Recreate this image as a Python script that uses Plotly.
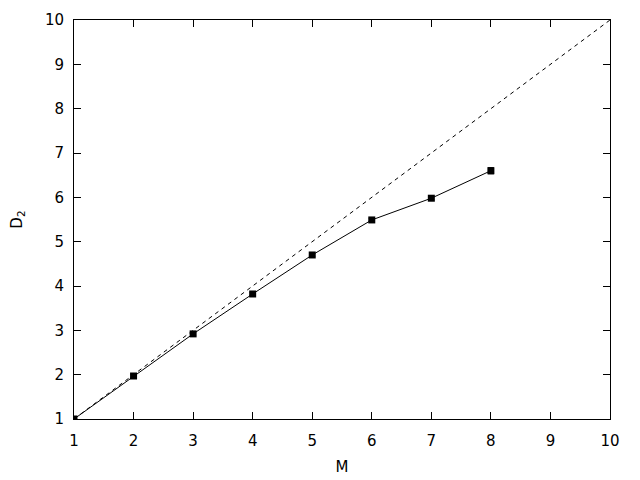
import plotly.graph_objects as go

m_values = [1, 2, 3, 4, 5, 6, 7, 8]
d2_values = [1.0, 1.97, 2.92, 3.82, 4.70, 5.49, 5.98, 6.60]
d2_errors = [0.02, 0.03, 0.03, 0.03, 0.03, 0.03, 0.04, 0.07]
ref_x = [1, 10]
ref_y = [1, 10]

fig = go.Figure()

# reference line D2 = M
fig.add_trace(go.Scatter(
    x=ref_x, y=ref_y, mode="lines",
    line=dict(color="black", width=1, dash="4px,4px"),
    showlegend=False, hoverinfo="skip"
))

fig.add_trace(go.Scatter(
    x=m_values, y=d2_values, mode="lines+markers",
    line=dict(color="black", width=1),
    marker=dict(symbol="square", size=7, color="black"),
    error_y=dict(type="data", array=d2_errors, color="black", thickness=1, width=3),
    showlegend=False
))

axis_style = dict(
    range=[1, 10], dtick=1, showgrid=False, zeroline=False,
    showline=True, linecolor="black", linewidth=1, mirror="ticks",
    ticks="inside", ticklen=7, tickcolor="black", automargin=False,
    tickfont=dict(family="DejaVu Sans", size=15, color="black"),
)

fig.update_xaxes(title=dict(text="M", font=dict(family="DejaVu Sans", size=15, color="black"), standoff=12),
                 ticklabelstandoff=8, **axis_style)
fig.update_yaxes(title=dict(text="D<sub>2</sub>", font=dict(family="DejaVu Sans", size=15, color="black"), standoff=22),
                 ticklabelstandoff=6, **axis_style)

# page body has an 8px margin, so shift the plot area accordingly
fig.update_layout(
    width=640, height=480,
    paper_bgcolor="white", plot_bgcolor="white",
    margin=dict(l=66, r=38, t=12, b=69),
)

fig.write_html("out.html")
